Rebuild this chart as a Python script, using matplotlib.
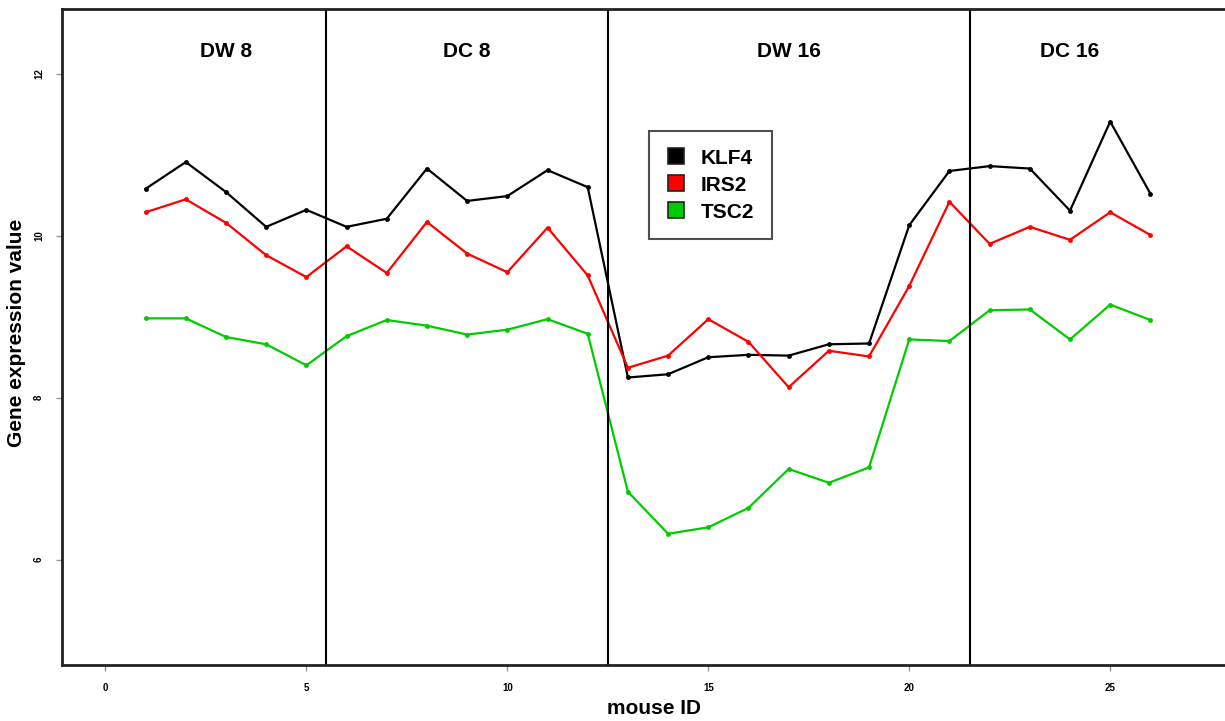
import matplotlib
matplotlib.use("Agg")
import matplotlib.pyplot as plt
from matplotlib.lines import Line2D

plt.rcParams['font.family'] = ['Liberation Sans', 'DejaVu Sans']

mouse_id = list(range(1, 27))

klf4 = [10.58, 10.91, 10.54, 10.11, 10.32, 10.11, 10.21, 10.83, 10.43, 10.49,
        10.81, 10.60, 8.25, 8.29, 8.50, 8.53, 8.52, 8.66, 8.67, 10.13,
        10.80, 10.86, 10.83, 10.31, 11.41, 10.52]
irs2 = [10.29, 10.45, 10.16, 9.76, 9.49, 9.87, 9.54, 10.17, 9.78, 9.55,
        10.10, 9.51, 8.37, 8.52, 8.97, 8.69, 8.13, 8.58, 8.51, 9.38,
        10.42, 9.90, 10.11, 9.95, 10.29, 10.01]
tsc2 = [8.98, 8.98, 8.75, 8.66, 8.40, 8.76, 8.96, 8.89, 8.78, 8.84,
        8.97, 8.79, 6.84, 6.32, 6.40, 6.64, 7.12, 6.95, 7.14, 8.72,
        8.70, 9.08, 9.09, 8.72, 9.15, 8.96]

genes = ['KLF4', 'IRS2', 'TSC2']
colors = ['#000000', '#ff0000', '#00cc00']

group_names = ['DW 8', 'DC 8', 'DW 16', 'DC 16']
group_centers = [3, 9, 17, 24]
group_breaks = [5.5, 12.5, 21.5]

W, H = 1225, 721
fig = plt.figure(figsize=(W / 100, H / 100), dpi=100)
# plot box: left 62px, top 9px, bottom 665px, right edge runs past the image
ax = fig.add_axes([62 / W, (H - 665) / H, (1234 - 62) / W, (665 - 9) / H])

for vals, col in zip([klf4, irs2, tsc2], colors):
    ax.plot(mouse_id, vals, '-', color=col, lw=1.6, marker='o', ms=3.5,
            markeredgewidth=0)

for b in group_breaks:
    ax.axvline(b, color='black', lw=1.5)

for name, cx in zip(group_names, group_centers):
    ax.text(cx, 12.27, name, ha='center', va='center', fontsize=15,
            fontweight='bold')

ax.set_xlim(-1.08, 28.08)
ax.set_ylim(4.7, 12.8)
ax.set_xticks([0, 5, 10, 15, 20, 25])
ax.set_yticks([6, 8, 10, 12])
for lab in ax.get_yticklabels():
    lab.set_rotation(90)
    lab.set_va('center')
ax.tick_params(axis='both', length=4, width=1, color='#999999',
               labelsize=7, pad=9)
for lab in ax.get_xticklabels() + ax.get_yticklabels():
    lab.set_fontweight('bold')

for sp in ax.spines.values():
    sp.set_linewidth(2)
    sp.set_color('#222222')

ax.set_xlabel('mouse ID', fontsize=15, fontweight='bold')
ax.xaxis.set_label_coords(0.505, -0.052)
ax.set_ylabel('Gene expression value', fontsize=15, fontweight='bold')
ax.yaxis.set_label_coords(-0.031, 0.506)

handles = [Line2D([], [], ls='none', marker='s', ms=11, markerfacecolor=c,
                  markeredgecolor='#222222', markeredgewidth=1.2)
           for c in colors]
leg = ax.legend(handles, genes, loc='upper left',
                bbox_to_anchor=(649 / W, 1 - 131 / H),
                bbox_transform=fig.transFigure, frameon=True, fancybox=False,
                prop={'size': 15, 'weight': 'bold'}, handlelength=0.9,
                handletextpad=0.75, labelspacing=0.38, borderpad=0.85,
                borderaxespad=0)
leg.get_frame().set_edgecolor('#222222')
leg.get_frame().set_linewidth(1.5)

fig.savefig('out.png', dpi=100)
